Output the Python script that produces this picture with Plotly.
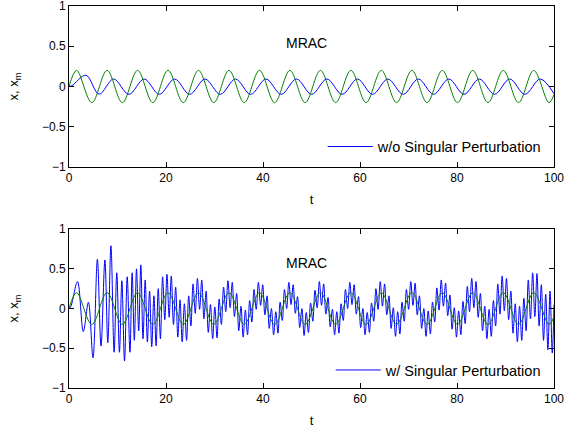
import plotly.graph_objects as go
from plotly.subplots import make_subplots

# ---------------- data ----------------
# reference model output x_m (green): extrema of the reference signal
ref_t = [0, 1.57, 4.71, 7.85, 11.0, 14.14, 17.28, 20.42, 23.56, 26.7, 29.85,
         32.99, 36.13, 39.27, 42.41, 45.55, 48.69, 51.84, 54.98, 58.12, 61.26,
         64.4, 67.54, 70.69, 73.83, 76.97, 80.11, 83.25, 86.39, 89.54, 92.68,
         95.82, 98.96, 100]
ref_xm = [0, 0.2, -0.2, 0.2, -0.2, 0.2, -0.2, 0.2, -0.2, 0.2, -0.2,
          0.2, -0.2, 0.2, -0.2, 0.2, -0.2, 0.2, -0.2, 0.2, -0.2,
          0.2, -0.2, 0.2, -0.2, 0.2, -0.2, 0.2, -0.2, 0.2, -0.2,
          0.2, -0.2, -0.1]

# plant output x without singular perturbation (blue, top panel)
top_t = [0, 0.6, 3.5, 6.2, 9.2, 12.35, 15.5, 18.63, 21.77, 24.9, 28.05,
         31.2, 34.33, 37.47, 40.62, 43.75, 46.9, 50.04, 53.18, 56.32, 59.47,
         62.6, 65.75, 68.9, 72.03, 75.17, 78.32, 81.45, 84.6, 87.74, 90.88,
         94.0, 97.17, 100]
top_x = [0, 0.01, 0.14, -0.095, 0.093, -0.097, 0.093, -0.097, 0.093, -0.097, 0.093,
         -0.097, 0.093, -0.097, 0.093, -0.097, 0.093, -0.097, 0.093, -0.097, 0.093,
         -0.097, 0.093, -0.097, 0.093, -0.097, 0.093, -0.097, 0.093, -0.097, 0.093,
         -0.097, 0.093, -0.09]

# plant output x with singular perturbation (blue, bottom panel): local extrema
bot_t = [0, 0.4, 1.75, 2.95, 4.0, 4.95, 5.85, 6.6, 7.4, 8.0, 8.65, 9.3, 9.85, 10.4, 10.9, 11.45, 12.0,
         12.57, 13.02, 13.47, 13.92, 14.37, 14.81, 15.26, 15.71, 16.16, 16.61, 17.06, 17.51, 17.96, 18.40,
         18.85, 19.30, 19.75, 20.20, 20.65, 21.09, 21.54, 21.99, 22.44, 22.89, 23.34, 23.79, 24.24, 24.68,
         25.13, 25.58, 26.03, 26.48, 26.93, 27.37, 27.82, 28.27, 28.72, 29.17, 29.62, 30.07, 30.52, 30.96,
         31.42, 31.87, 32.32, 32.77, 33.22, 33.66, 34.11, 34.56, 35.01, 35.46, 35.91, 36.36, 36.81, 37.25,
         37.70, 38.15, 38.60, 39.05, 39.50, 39.94, 40.39, 40.84, 41.29, 41.74, 42.19, 42.64, 43.09, 43.53,
         43.98, 44.43, 44.88, 45.33, 45.78, 46.22, 46.67, 47.12, 47.57, 48.02, 48.47, 48.92, 49.37, 49.81,
         50.27, 50.72, 51.17, 51.62, 52.07, 52.51, 52.96, 53.41, 53.86, 54.31, 54.76, 55.21, 55.66, 56.10,
         56.55, 57.00, 57.45, 57.90, 58.35, 58.79, 59.24, 59.69, 60.14, 60.59, 61.04, 61.49, 61.94, 62.38,
         62.83, 63.28, 63.73, 64.18, 64.63, 65.07, 65.52, 65.97, 66.42, 66.87, 67.32, 67.77, 68.22, 68.66,
         69.12, 69.57, 70.02, 70.47, 70.92, 71.36, 71.81, 72.26, 72.71, 73.16, 73.61, 74.06, 74.51, 74.95,
         75.40, 75.85, 76.30, 76.75, 77.20, 77.64, 78.09, 78.54, 78.99, 79.44, 79.89, 80.34, 80.79, 81.23,
         81.68, 82.13, 82.58, 83.03, 83.48, 83.92, 84.37, 84.82, 85.27, 85.72, 86.17, 86.62, 87.07, 87.51,
         87.96, 88.41, 88.86, 89.31, 89.76, 90.20, 90.65, 91.10, 91.55, 92.00, 92.45, 92.90, 93.35, 93.79,
         94.25, 94.70, 95.15, 95.60, 96.05, 96.49, 96.94, 97.39, 97.84, 98.29, 98.74, 99.19, 99.64, 100]
bot_x = [0, 0.03, 0.34, -0.29, 0.08, -0.62, 0.62, -0.47, 0.61, -0.43, 0.79, -0.55, 0.45, -0.55, 0.35, -0.66, 0.40,
         -0.55, 0.45, -0.40, 0.50, -0.28, 0.55, -0.38, 0.36, -0.42, 0.22, -0.48, 0.16, -0.47, 0.25,
         -0.38, 0.40, -0.14, 0.43, -0.11, 0.41, -0.20, 0.27, -0.36, 0.11, -0.42, 0.06, -0.40, 0.16,
         -0.22, 0.31, -0.06, 0.38, -0.01, 0.36, -0.13, 0.22, -0.30, 0.05, -0.38, 0.02, -0.37, 0.12,
         -0.20, 0.27, -0.04, 0.35, 0.01, 0.33, -0.10, 0.19, -0.28, 0.03, -0.36, -0.02, -0.33, 0.10,
         -0.17, 0.24, -0.01, 0.33, 0.04, 0.30, -0.08, 0.16, -0.25, 0.00, -0.33, -0.04, -0.31, 0.08,
         -0.15, 0.24, 0.00, 0.33, 0.05, 0.30, -0.06, 0.15, -0.24, 0.00, -0.34, -0.05, -0.30, 0.07,
         -0.16, 0.23, 0.01, 0.34, 0.04, 0.31, -0.07, 0.14, -0.23, -0.01, -0.33, -0.04, -0.31, 0.06,
         -0.15, 0.24, 0.00, 0.33, 0.05, 0.30, -0.07, 0.15, -0.24, 0.00, -0.33, -0.05, -0.30, 0.07,
         -0.16, 0.25, -0.01, 0.34, 0.03, 0.31, -0.08, 0.16, -0.25, 0.01, -0.35, -0.04, -0.32, 0.08,
         -0.16, 0.24, -0.01, 0.34, 0.04, 0.32, -0.08, 0.16, -0.25, 0.00, -0.35, -0.03, -0.32, 0.08,
         -0.17, 0.26, -0.02, 0.36, 0.03, 0.32, -0.09, 0.17, -0.26, 0.01, -0.36, -0.03, -0.33, 0.09,
         -0.19, 0.28, -0.04, 0.38, 0.01, 0.34, -0.11, 0.19, -0.28, 0.03, -0.38, -0.01, -0.35, 0.10,
         -0.22, 0.31, -0.07, 0.41, -0.03, 0.38, -0.14, 0.22, -0.31, 0.06, -0.42, 0.03, -0.40, 0.13,
         -0.28, 0.36, -0.13, 0.45, -0.10, 0.44, -0.22, 0.30, -0.40, 0.18, -0.52, 0.22, -0.56, 0.05]

x_ticks = [0, 20, 40, 60, 80, 100]
y_ticks = [-1, -0.5, 0, 0.5, 1]
y_tick_text = ["\u22121", "\u22120.5", "0", "0.5", "1"]
panel_titles = ["MRAC", "MRAC"]
legend_names = ["w/o Singular Perturbation", "w/ Singular Perturbation"]

BLUE = "#0000FF"
GREEN = "#008000"
FONT = "Liberation Sans, Arial, sans-serif"

# ---------------- figure ----------------
fig = make_subplots(rows=2, cols=1, vertical_spacing=0.16)

fig.add_trace(go.Scatter(x=top_t, y=top_x, mode="lines", name=legend_names[0],
                         line=dict(color=BLUE, width=1, shape="spline"),
                         legend="legend"), row=1, col=1)
fig.add_trace(go.Scatter(x=ref_t, y=ref_xm, mode="lines", showlegend=False,
                         line=dict(color=GREEN, width=1, shape="spline")), row=1, col=1)

fig.add_trace(go.Scatter(x=bot_t, y=bot_x, mode="lines", name=legend_names[1],
                         line=dict(color=BLUE, width=1, shape="spline"),
                         legend="legend2"), row=2, col=1)
fig.add_trace(go.Scatter(x=ref_t, y=ref_xm, mode="lines", showlegend=False,
                         line=dict(color=GREEN, width=1, shape="spline")), row=2, col=1)

axis_common = dict(showline=True, linecolor="black", linewidth=1, mirror="ticks",
                   ticks="inside", ticklen=5, tickcolor="black", showgrid=False,
                   zeroline=False, automargin=False, ticklabeloverflow="allow",
                   tickfont=dict(family=FONT, size=12, color="black"))

for r in (1, 2):
    fig.update_xaxes(range=[0, 100], tickvals=x_ticks, ticktext=[str(v) for v in x_ticks],
                     title=dict(text="t", font=dict(family=FONT, size=13, color="black"), standoff=10),
                     row=r, col=1, **axis_common)
    fig.update_yaxes(range=[-1, 1], tickvals=y_ticks, ticktext=y_tick_text,
                     title=dict(text="x, x<sub>m</sub>", font=dict(family=FONT, size=13, color="black"),
                                standoff=20),
                     row=r, col=1, **axis_common)

legend_common = dict(xanchor="right", yanchor="middle", bgcolor="rgba(0,0,0,0)",
                     borderwidth=0, itemwidth=45,
                     font=dict(family=FONT, size=14.5, color="black"))

fig.update_layout(
    width=566, height=430,
    margin=dict(l=69, r=12, t=6, b=42, autoexpand=False),
    paper_bgcolor="white", plot_bgcolor="white",
    font=dict(family=FONT, size=12, color="black"),
    yaxis=dict(domain=[0.5785, 1.0]),
    yaxis2=dict(domain=[0.0, 0.416]),
    legend=dict(x=0.985, y=0.632, **legend_common),
    legend2=dict(x=0.985, y=0.047, **legend_common),
)

fig.add_annotation(x=49, y=0.54, xref="x", yref="y", text=panel_titles[0], showarrow=False,
                   font=dict(family=FONT, size=14, color="black"))
fig.add_annotation(x=49, y=0.57, xref="x2", yref="y2", text=panel_titles[1], showarrow=False,
                   font=dict(family=FONT, size=14, color="black"))

fig.write_html("out.html", config={"displayModeBar": False},
               post_script="document.body.style.margin='0px';document.body.style.overflow='hidden';")
